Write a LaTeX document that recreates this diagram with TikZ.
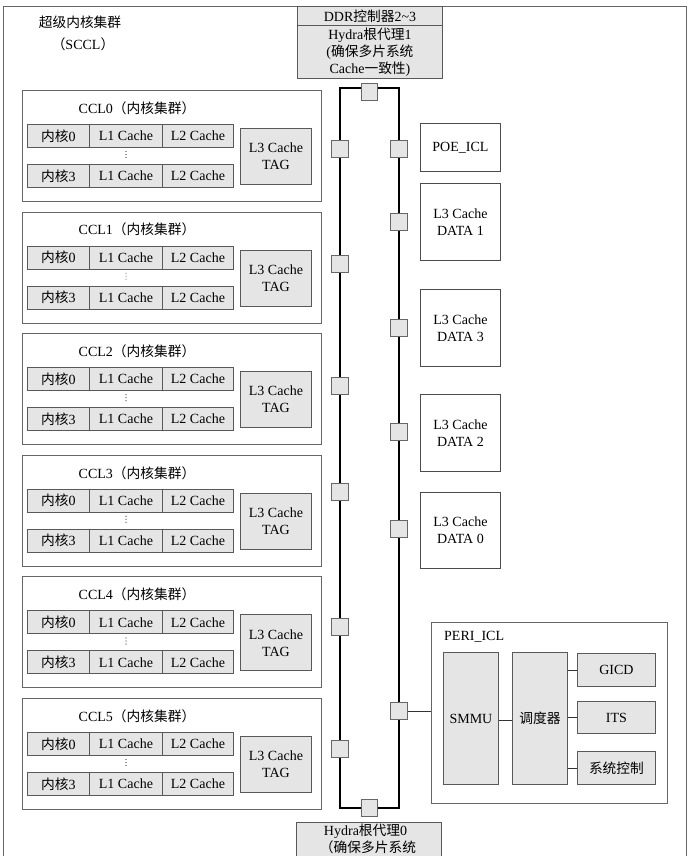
\documentclass[tikz,border=0pt]{standalone}
\usepackage{fontspec}
\setmainfont{Liberation Serif}
\newfontfamily\cjk{Noto Sans CJK SC}[Scale=0.98]
\newcommand\zh[1]{{\cjk #1}}
\begin{document}
\begin{tikzpicture}[x=1pt,y=-1pt,
  every node/.style={font=\fontsize{14}{17}\selectfont, inner sep=0pt},
  frame/.style={draw=black!60, line width=1.1pt},
  outer/.style={draw=black!60, line width=0.9pt, anchor=north west},
  plain/.style={draw=black!70, line width=0.9pt, anchor=north west, align=center},
  cell/.style={draw=black!65, fill=black!10, line width=0.9pt, anchor=north west, minimum height=23pt, align=center},
  sq/.style={draw=black!60, fill=black!10, line width=0.9pt, minimum size=16.5pt},
  ring/.style={line width=1.6pt, black},
  link/.style={line width=0.9pt, black!80}]
\clip (0,0) rectangle (689,856);
% outer SCCL frame
\node[frame, anchor=north west, minimum width=683, minimum height=900] (sccl) at (3,6) {};
\node (scclt1) at (80,22) {\zh{超级内核集群}};
\node (scclt2) at (83,44) {\zh{（}SCCL\zh{）}};
% top DDR / Hydra 1
\node[cell, minimum width=145, minimum height=19] (ddr) at (297,6) {DDR\zh{控制器}2\textasciitilde3};
\node[cell, minimum width=145, minimum height=53] (hyd1) at (297,25) {Hydra\zh{根代理}1\\(\zh{确保多片系统}\\Cache\zh{一致性})};
% bottom Hydra 0
\node[cell, minimum width=145, minimum height=60] (hyd0) at (296,822) {};
\node[anchor=north, align=left] (hyd0t) at (368,824) {\hspace*{4pt}Hydra\zh{根代理}0\\\zh{（确保多片系统}};
% ring
\coordinate (rtl) at (340,88);
\coordinate (rbr) at (399,808);
\draw[ring] (rtl) rectangle (rbr);
\node[sq] (top) at (369.5,92) {};
\node[sq] (bot) at (369.5,808) {};
% CCL blocks
\foreach \i/\s in {0/149,1/264,2/386,3/492,4/627,5/749}{
  \pgfmathsetmacro\T{90+121.6*\i}
  \node[outer, minimum width=299, minimum height=111] (ccl\i) at (22,\T) {};
  \node (ccl\i t) at (137,\T+18) {CCL\i\zh{（内核集群）}};
  \node[cell, minimum width=62] (ka\i) at (27,\T+34) {\zh{内核}0};
  \node[cell, minimum width=73] (l1a\i) at (89,\T+34) {L1 Cache};
  \node[cell, minimum width=71] (l2a\i) at (162,\T+34) {L2 Cache};
  \node[cell, minimum width=62] (kb\i) at (27,\T+74) {\zh{内核}3};
  \node[cell, minimum width=73] (l1b\i) at (89,\T+74) {L1 Cache};
  \node[cell, minimum width=71] (l2b\i) at (162,\T+74) {L2 Cache};
  \fill[black!80] (126,\T+61.5) circle (0.6) (126,\T+64.5) circle (0.6) (126,\T+67.5) circle (0.6);
  \node[cell, minimum width=71, minimum height=56] (tag\i) at (240,\T+38) {L3 Cache\\TAG};
  \node[sq] (ls\i) at (340,\s) {};
}
% right side squares
\foreach \n/\y in {1/149,2/222,3/328,4/432,5/529,6/711}{
  \node[sq] (rs\n) at (399,\y) {};
}
% right boxes
\node[plain, minimum width=80, minimum height=48] (poe) at (420,123) {POE\_ICL};
\node[plain, minimum width=80, minimum height=77] (d1) at (420,183) {L3 Cache\\DATA 1};
\node[plain, minimum width=80, minimum height=77] (d3) at (420,289) {L3 Cache\\DATA 3};
\node[plain, minimum width=80, minimum height=77] (d2) at (420,394) {L3 Cache\\DATA 2};
\node[plain, minimum width=80, minimum height=76] (d0) at (420,492) {L3 Cache\\DATA 0};
% PERI_ICL
\node[outer, minimum width=236, minimum height=181] (peri) at (431,622) {};
\node[anchor=west] (perit) at (444,637) {PERI\_ICL};
\node[cell, minimum width=55, minimum height=132] (smmu) at (443,652) {SMMU};
\node[cell, minimum width=55, minimum height=132] (sched) at (512,652) {\zh{调度器}};
\node[cell, minimum width=78, minimum height=33] (gicd) at (577,653) {GICD};
\node[cell, minimum width=78, minimum height=32] (its) at (577,701) {ITS};
\node[cell, minimum width=78, minimum height=33] (sysc) at (577,751) {\zh{系统控制}};
\draw[link] (rs6.east) -- (peri.west |- rs6);
\draw[link] (smmu.east |- 0,720) -- (sched.west |- 0,720);
\draw[link] (sched.east |- gicd) -- (gicd.west);
\draw[link] (sched.east |- its) -- (its.west);
\draw[link] (sched.east |- sysc) -- (sysc.west);
\end{tikzpicture}
\end{document}
